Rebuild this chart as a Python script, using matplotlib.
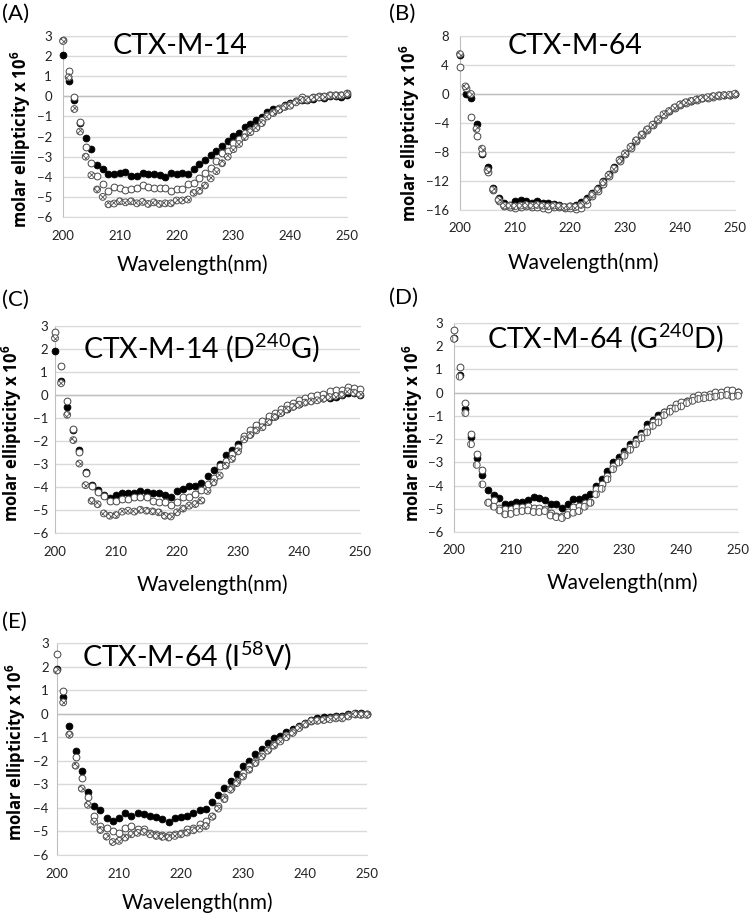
import matplotlib
matplotlib.use('Agg')
import matplotlib.pyplot as plt
import numpy as np

# fonts
plt.rcParams['font.family'] = ['Lato', 'DejaVu Sans']
plt.rcParams['mathtext.fontset'] = 'custom'
plt.rcParams['mathtext.rm'] = 'Lato'
plt.rcParams['mathtext.bf'] = 'Open Sans:bold'
plt.rcParams['hatch.color'] = '#666666'
plt.rcParams['hatch.linewidth'] = 0.6

# wavelengths (nm)
wl = np.arange(200, 251)

# (A) CTX-M-14
a_filled = [2.05, 0.75, -0.17, -1.33, -2.08, -2.62, -3.42, -3.63, -3.87, -3.87,
            -3.83, -3.78, -3.97, -3.95, -3.83, -3.87, -3.87, -3.9, -4.0, -3.82,
            -3.88, -3.83, -3.87, -3.63, -3.37, -3.17, -2.92, -2.72, -2.45, -2.22,
            -1.97, -1.8, -1.53, -1.37, -1.2, -1.03, -0.8, -0.63, -0.63, -0.45,
            -0.33, -0.25, -0.2, -0.2, -0.13, -0.05, -0.08, 0.03, 0.0, -0.05, 0.05]
a_open = [2.8, 1.28, -0.05, -1.28, -2.5, -3.3, -3.97, -4.38, -4.72, -4.5,
          -4.55, -4.67, -4.62, -4.55, -4.43, -4.5, -4.55, -4.58, -4.58, -4.7,
          -4.62, -4.62, -4.38, -4.32, -4.08, -3.83, -3.55, -3.22, -2.83, -2.7,
          -2.33, -2.13, -1.83, -1.67, -1.5, -1.2, -0.92, -0.78, -0.58, -0.47,
          -0.4, -0.25, -0.05, -0.13, -0.05, 0.0, 0.0, 0.08, 0.08, 0.08, 0.17]
a_hatch = [2.75, 0.95, -0.63, -1.75, -3.0, -3.92, -4.63, -5.0, -5.37, -5.33,
           -5.22, -5.27, -5.22, -5.32, -5.25, -5.35, -5.27, -5.35, -5.32, -5.32,
           -5.18, -5.18, -5.13, -4.8, -4.7, -4.43, -4.08, -3.72, -3.33, -3.0,
           -2.63, -2.37, -2.03, -1.78, -1.58, -1.33, -1.0, -0.83, -0.67, -0.53,
           -0.47, -0.3, -0.17, -0.17, -0.08, -0.05, -0.03, 0.05, 0.05, 0.05, 0.12]

# (B) CTX-M-64
b_filled = [5.4, 0.0, -0.55, -4.14, -8.28, -10.07, -13.0, -14.4, -15.0, -15.3,
            -14.7, -14.6, -14.8, -15.0, -14.8, -15.0, -15.1, -15.2, -15.3, -15.6,
            -15.4, -15.3, -14.9, -14.4, -13.6, -13.0, -12.0, -11.0, -10.1, -9.0,
            -8.1, -7.2, -6.3, -5.5, -4.8, -4.2, -3.4, -2.7, -2.3, -1.8,
            -1.4, -1.1, -0.9, -0.7, -0.6, -0.4, -0.3, -0.2, -0.1, -0.1, 0.0]
b_open = [3.7, 0.8, -3.17, -5.75, -8.1, -10.8, -13.3, -14.7, -15.5, -15.6,
          -15.7, -15.6, -15.5, -15.6, -15.6, -15.7, -15.8, -15.6, -15.6, -15.7,
          -15.7, -15.9, -15.7, -15.2, -14.1, -13.4, -12.4, -11.3, -10.4, -9.2,
          -8.3, -7.4, -6.5, -5.7, -5.0, -4.3, -3.6, -2.9, -2.4, -1.9,
          -1.5, -1.2, -1.0, -0.8, -0.6, -0.5, -0.35, -0.25, -0.15, -0.1, 0.05]
b_hatch = [5.5, 1.05, 0.0, -4.83, -7.54, -10.5, -13.2, -14.6, -15.4, -15.4,
           -15.5, -15.4, -15.3, -15.4, -15.3, -15.4, -15.5, -15.4, -15.5, -15.6,
           -15.5, -15.6, -15.3, -14.7, -13.9, -13.2, -12.2, -11.2, -10.3, -9.1,
           -8.2, -7.3, -6.4, -5.6, -4.9, -4.25, -3.5, -2.8, -2.35, -1.85,
           -1.45, -1.15, -0.95, -0.75, -0.6, -0.45, -0.3, -0.2, -0.15, -0.1, 0.05]

# (C) CTX-M-14 (D240G)
c_filled = [1.9, 0.61, -0.5, -1.53, -2.37, -3.34, -3.91, -4.13, -4.35, -4.48,
            -4.35, -4.26, -4.26, -4.24, -4.18, -4.2, -4.27, -4.27, -4.33, -4.42,
            -4.18, -4.07, -3.97, -3.97, -3.81, -3.53, -3.28, -2.98, -2.63, -2.38,
            -2.12, -1.86, -1.69, -1.4, -1.25, -1.01, -0.92, -0.76, -0.6, -0.49,
            -0.39, -0.28, -0.22, -0.19, -0.13, -0.13, -0.09, -0.01, 0.1, 0.07, 0.01]
c_open = [2.72, 1.24, -0.25, -1.48, -2.46, -3.4, -3.95, -4.2, -4.38, -4.6,
          -4.6, -4.53, -4.52, -4.45, -4.42, -4.42, -4.59, -4.67, -4.67, -4.78,
          -4.64, -4.45, -4.42, -4.3, -4.11, -3.87, -3.62, -3.1, -2.85, -2.56,
          -2.27, -1.78, -1.51, -1.32, -1.15, -0.9, -0.78, -0.6, -0.45, -0.35,
          -0.23, -0.13, -0.04, -0.01, 0.06, 0.16, 0.2, 0.23, 0.35, 0.31, 0.28]
c_hatch = [2.47, 0.51, -0.86, -1.96, -2.98, -3.92, -4.6, -4.75, -5.15, -5.25,
           -5.22, -5.07, -5.03, -5.07, -4.99, -5.03, -5.06, -5.1, -5.25, -5.28,
           -5.1, -4.94, -4.81, -4.74, -4.59, -4.17, -3.8, -3.5, -3.07, -2.78,
           -2.45, -1.93, -1.74, -1.54, -1.4, -1.18, -0.96, -0.79, -0.63, -0.52,
           -0.42, -0.33, -0.28, -0.23, -0.16, -0.09, -0.04, 0.01, 0.16, 0.1, 0.01]

# (D) CTX-M-64 (G240D)
d_filled = [2.36, 0.78, -0.71, -1.93, -2.8, -3.54, -4.19, -4.42, -4.52, -4.78,
            -4.81, -4.7, -4.7, -4.64, -4.5, -4.54, -4.64, -4.78, -4.78, -4.96,
            -4.78, -4.6, -4.57, -4.5, -4.38, -4.02, -3.7, -3.37, -2.98, -2.75,
            -2.51, -2.22, -2.0, -1.74, -1.35, -1.17, -0.97, -0.82, -0.71, -0.59,
            -0.49, -0.35, -0.27, -0.2, -0.13, -0.13, -0.01, -0.01, 0.04, -0.01, 0.04]
d_open = [2.71, 1.1, -0.45, -1.79, -2.65, -3.34, -4.7, -4.64, -4.95, -5.03,
          -5.0, -4.93, -4.91, -4.86, -4.96, -4.96, -5.03, -5.2, -5.32, -5.29,
          -5.12, -4.93, -4.86, -4.74, -4.71, -4.16, -3.95, -3.59, -3.16, -2.94,
          -2.62, -2.36, -2.07, -1.83, -1.54, -1.25, -1.07, -0.85, -0.68, -0.49,
          -0.39, -0.35, -0.2, -0.1, -0.1, -0.06, 0.01, 0.04, 0.13, 0.13, 0.01]
d_hatch = [2.32, 0.69, -0.88, -2.22, -3.11, -3.95, -4.74, -4.91, -5.07, -5.24,
           -5.22, -5.14, -5.1, -5.07, -5.14, -5.14, -5.1, -5.29, -5.36, -5.4,
           -5.27, -5.17, -5.1, -4.91, -4.74, -4.38, -4.14, -3.73, -3.3, -3.01,
           -2.72, -2.46, -2.22, -1.96, -1.71, -1.43, -1.28, -0.97, -0.82, -0.68,
           -0.59, -0.45, -0.35, -0.27, -0.24, -0.2, -0.17, -0.13, -0.1, -0.17, -0.13]

# (E) CTX-M-64 (I58V)
e_filled = [1.9, 0.72, -0.54, -1.57, -2.43, -3.32, -3.94, -4.11, -4.43, -4.57,
            -4.45, -4.23, -4.34, -4.23, -4.24, -4.35, -4.38, -4.48, -4.58, -4.45,
            -4.38, -4.35, -4.23, -4.1, -4.03, -3.74, -3.46, -3.16, -2.85, -2.58,
            -2.24, -2.03, -1.72, -1.49, -1.25, -1.04, -0.94, -0.79, -0.65, -0.51,
            -0.4, -0.28, -0.2, -0.15, -0.13, -0.1, -0.08, 0.0, 0.02, 0.01, -0.02]
e_open = [2.54, 0.98, -0.85, -1.83, -2.75, -3.53, -4.34, -4.77, -4.87, -4.96,
          -5.08, -4.87, -4.77, -4.91, -4.88, -5.05, -5.09, -5.16, -5.16, -5.12,
          -5.05, -4.88, -4.84, -4.7, -4.55, -4.35, -3.94, -3.55, -3.15, -2.85,
          -2.52, -2.24, -2.0, -1.72, -1.48, -1.28, -1.1, -0.92, -0.75, -0.58,
          -0.42, -0.3, -0.28, -0.22, -0.2, -0.15, -0.15, -0.07, 0.0, -0.02, -0.03]
e_hatch = [1.83, 0.48, -0.89, -2.21, -3.18, -3.87, -4.58, -4.94, -5.22, -5.45,
           -5.4, -5.26, -5.12, -5.06, -5.02, -5.12, -5.19, -5.23, -5.26, -5.19,
           -5.12, -5.05, -4.95, -4.88, -4.77, -4.37, -4.03, -3.63, -3.23, -2.95,
           -2.67, -2.38, -2.1, -1.82, -1.57, -1.36, -1.18, -1.0, -0.82, -0.61,
           -0.45, -0.32, -0.3, -0.27, -0.24, -0.2, -0.2, -0.12, -0.02, -0.05, -0.05]

W, H = 750, 915
fig = plt.figure(figsize=(W / 100, H / 100), dpi=100)

# panel layout in pixels: box (left, right, top, bottom), label/title/xlabel/ylabel positions
panels = [
    dict(tag='(A)', tag_xy=(2, 14), title='CTX-M-14', title_xy=(180, 46),
         box=(63, 347, 36, 217), yl=(-6, 3), ys=1, ypad=8,
         xlab_xy=(192, 265), ylab_xy=(21, 139),
         data=(a_filled, a_open, a_hatch), hatch='xxxxxx'),
    dict(tag='(B)', tag_xy=(389, 14), title='CTX-M-64', title_xy=(575, 46),
         box=(460, 735, 36, 210), yl=(-16, 8), ys=4, ypad=8,
         xlab_xy=(583, 263), ylab_xy=(410, 133),
         data=(b_filled, b_open, b_hatch), hatch='xxxxxx'),
    dict(tag='(C)', tag_xy=(2, 300), title='CTX-M-14 (D$^{240}$G)', title_xy=(201, 348),
         box=(55, 360, 326, 533), yl=(-6, 3), ys=1, ypad=5,
         xlab_xy=(212, 585), ylab_xy=(12, 433),
         data=(c_filled, c_open, c_hatch), hatch='xxxxxx'),
    dict(tag='(D)', tag_xy=(389, 298), title='CTX-M-64 (G$^{240}$D)', title_xy=(605, 338),
         box=(454, 738, 323, 532), yl=(-6, 3), ys=1, ypad=8,
         xlab_xy=(622, 583), ylab_xy=(413, 433),
         data=(d_filled, d_open, d_hatch), hatch='|||'),
    dict(tag='(E)', tag_xy=(2, 622), title='CTX-M-64 (I$^{58}$V)', title_xy=(187, 656),
         box=(57, 367, 643, 855), yl=(-6, 3), ys=1, ypad=6,
         xlab_xy=(197, 903), ylab_xy=(16, 752),
         data=(e_filled, e_open, e_hatch), hatch='xxxxxx'),
]

for p in panels:
    l, r, t, b = p['box']
    ax = fig.add_axes([l / W, 1 - b / H, (r - l) / W, (b - t) / H])
    filled, opened, hatched = p['data']

    # the three spectra
    ax.scatter(wl, filled, s=24, c='black', edgecolors='black', linewidths=0.6,
               zorder=3, clip_on=False)
    ax.scatter(wl, opened, s=24, facecolors='white', edgecolors='#444444',
               linewidths=0.7, zorder=4, clip_on=False)
    ax.scatter(wl, hatched, s=24, facecolors='white', edgecolors='#555555',
               linewidths=0.7, hatch=p['hatch'], zorder=5, clip_on=False)

    ax.set_xlim(200, 250)
    ax.set_ylim(*p['yl'])
    ax.set_xticks(np.arange(200, 251, 10))
    ax.set_yticks(np.arange(p['yl'][0], p['yl'][1] + 0.1, p['ys']))
    ax.tick_params(length=0, labelsize=9.5, colors='#222222')
    ax.tick_params(axis='x', pad=9)
    ax.tick_params(axis='y', pad=p['ypad'])

    # excel-like gridlines
    ax.yaxis.grid(True, color='#d9d9d9', linewidth=1.0)
    ax.axhline(0, color='#bfbfbf', linewidth=1.0, zorder=1)
    ax.set_axisbelow(True)
    ax.spines['right'].set_visible(False)
    ax.spines['top'].set_color('#d9d9d9')
    ax.spines['bottom'].set_color('#d9d9d9')
    ax.spines['left'].set_color('#bfbfbf')

    # labels
    fig.text(p['tag_xy'][0] / W, 1 - p['tag_xy'][1] / H, p['tag'],
             fontsize=16, ha='left', va='center')
    fig.text(p['title_xy'][0] / W, 1 - p['title_xy'][1] / H, p['title'],
             fontsize=20.5, ha='center', va='center')
    fig.text(p['xlab_xy'][0] / W, 1 - p['xlab_xy'][1] / H, 'Wavelength(nm)',
             fontsize=15, ha='center', va='center')
    fig.text(p['ylab_xy'][0] / W, 1 - p['ylab_xy'][1] / H,
             r'molar ellipticity x 10$^{\mathbf{6}}$', family='Open Sans',
             fontsize=12, fontweight='bold', rotation=90, ha='center', va='center')

plt.savefig('out.png', dpi=100)
